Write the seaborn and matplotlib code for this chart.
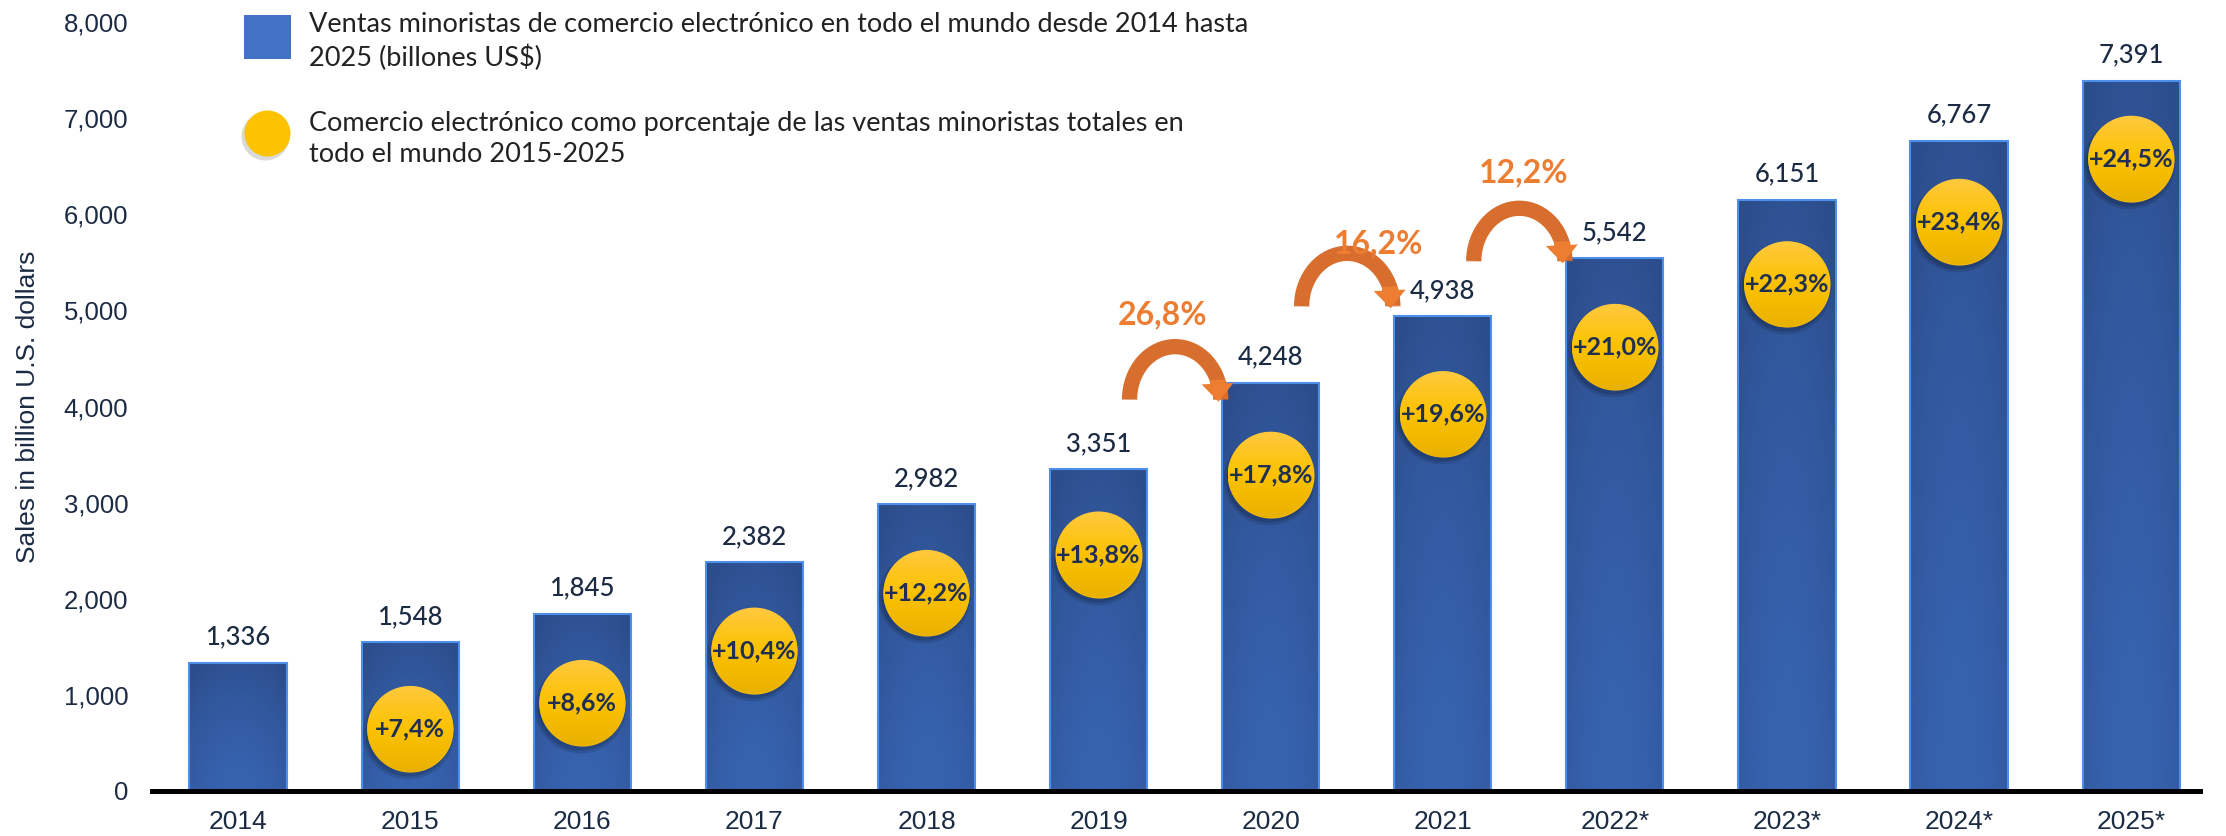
import matplotlib
matplotlib.use("Agg")
from matplotlib import pyplot as plt
import matplotlib.ticker as plticker
import matplotlib.transforms as mtransforms
from matplotlib.colors import LinearSegmentedColormap
from matplotlib.patches import FancyArrowPatch, Ellipse, Rectangle, Arc
import seaborn as sns
import numpy as np
import pandas as pd

# data
years = ["2014", "2015", "2016", "2017", "2018", "2019", "2020", "2021",
         "2022*", "2023*", "2024*", "2025*"]
sales = [1336, 1548, 1845, 2382, 2982, 3351, 4248, 4938, 5542, 6151, 6767, 7391]
share_years = years[1:]
share_pct = [7.4, 8.6, 10.4, 12.2, 13.8, 17.8, 19.6, 21.0, 22.3, 23.4, 24.5]
# vertical position of the yellow bubbles (in sales units)
share_height = [645, 916, 1460, 2060, 2460, 3290, 3920, 4620, 5270, 5921, 6577]
growth_years = ["2020", "2021", "2022*"]
legend_labels = ["Ventas minoristas de comercio electrónico en todo el mundo desde 2014 hasta\n2025 (billones US$)",
                 "Comercio electrónico como porcentaje de las ventas minoristas totales en\ntodo el mundo 2015-2025"]
ylabel = "Sales in billion U.S. dollars"

# arrow placement tweaks (pixels): lift of arrow base over the bar top, label offset
arrow_lift = [-17, 10, -3]
label_shift = [(-13, 85), (31, 63), (4, 88)]

sns.set_style("white")
plt.rcParams['font.family'] = ['Liberation Sans', 'DejaVu Sans']
LATO = ['Lato', 'DejaVu Sans']
NAVY = "#1c2b44"
ORANGE = "#ed7d31"

W, H = 2226, 836
fig = plt.figure(figsize=(W / 100, H / 100), dpi=100)
ax = fig.add_axes([152 / W, 1 - 791 / H, 2048 / W, 769 / H])

df = pd.DataFrame({"Year": years, "Sales": sales})
sns.barplot(data=df, x="Year", y="Sales", color="#30579c", saturation=1, width=0.565,
            edgecolor="#4d8fea", linewidth=1.5, ax=ax, zorder=2)
bars = list(ax.patches)
ax.set_xlim(-0.5, 11.4)
ax.set_ylim(0, 8000)
px_x = 2048 / 11.9   # pixels per category
px_y = 769 / 8000    # pixels per sales unit

# gradient fill for the bars
bar_cmap = LinearSegmentedColormap.from_list("bar", ["#3865b3", "#2c4d8b"])
gv = np.linspace(0, 1, 200)[:, None]
gh = np.linspace(-1, 1, 60)[None, :]
bar_grad = np.clip(0.1 + 0.7 * gv ** 1.5 + 0.3 * gh ** 2, 0, 1)
for p in bars:
    x0, w, h = p.get_x(), p.get_width(), p.get_height()
    im = ax.imshow(bar_grad, cmap=bar_cmap, vmin=0, vmax=1, origin="lower",
                   extent=(x0, x0 + w, 0, h), aspect="auto", zorder=2.1, interpolation="bicubic")
    im.set_clip_path(p)
    p.set_facecolor("none")
    p.set_zorder(2.2)

# value labels
for i, v in enumerate(sales):
    ax.annotate(f"{v:,}", (i, v), xytext=(0, 13), textcoords="offset points",
                ha="center", va="baseline", fontsize=18.5, fontweight=500, family=LATO,
                color=NAVY, zorder=5)

# yellow bubbles
circ = pd.DataFrame({"pos": [years.index(y) for y in share_years], "height": share_height})
msize = 62
shadow_tr = mtransforms.offset_copy(ax.transData, fig=fig, x=-2, y=-4, units="dots")
sns.scatterplot(data=circ, x="pos", y="height", s=(msize + 4) ** 2, color="black", alpha=0.12,
                linewidth=0, transform=shadow_tr, ax=ax, zorder=3, legend=False)
sns.scatterplot(data=circ, x="pos", y="height", s=msize ** 2, color="black", alpha=0.15,
                linewidth=0, transform=shadow_tr, ax=ax, zorder=3.05, legend=False)
sns.scatterplot(data=circ, x="pos", y="height", s=msize ** 2, color="#fbc012",
                linewidth=0, ax=ax, zorder=3.2, legend=False)
ax.set_xlim(-0.5, 11.4)
ax.set_ylim(0, 8000)

d_px = msize * fig.dpi / 72
dw = d_px / px_x
dh = d_px / px_y
circ_cmap = LinearSegmentedColormap.from_list("circ", ["#e9b100", "#fcc200", "#ffc940"])
cgrad = np.linspace(0, 1, 100)[:, None] * np.ones((1, 10))
for x, yv, pct in zip(circ["pos"], share_height, share_pct):
    e = Ellipse((x, yv), dw, dh, transform=ax.transData)
    im = ax.imshow(cgrad, cmap=circ_cmap, origin="lower", aspect="auto", zorder=3.3,
                   extent=(x - dw / 2, x + dw / 2, yv - dh / 2, yv + dh / 2), interpolation="bicubic")
    im.set_clip_path(e)
    ax.text(x, yv, ("+" + f"{pct:.1f}%").replace(".", ","), ha="center", va="center",
            fontsize=18, fontweight="bold", family=LATO, color="#1f2f52", zorder=4)

# growth arrows between years: arc body + arrow head
arrow_cmap = LinearSegmentedColormap.from_list("arr", ["#b95e28", "#d46c2d", "#ef7f34"])
n_seg = 24
for yr, lift, (lx, ly) in zip(growth_years, arrow_lift, label_shift):
    i = years.index(yr)
    prev, cur = sales[i - 1], sales[i]
    base = cur + lift / px_y
    left, right = i - 1 + 0.18, i - 0.29
    cx, rx = (left + right) / 2, (right - left) / 2
    ry = 53 / px_y
    theta_end = 22
    thetas = np.linspace(180, theta_end, n_seg + 1)
    for k in range(n_seg):
        ax.add_patch(Arc((cx, base), 2 * rx, 2 * ry, theta1=thetas[k + 1] - 0.6, theta2=thetas[k],
                         lw=11, color=arrow_cmap(k / (n_seg - 1)), zorder=4.5, capstyle="butt"))
    hx = cx + rx * np.cos(np.radians(theta_end))
    hy = base + ry * np.sin(np.radians(theta_end))
    head = FancyArrowPatch((hx, hy), (hx + 0.006, base - 2 / px_y),
                           arrowstyle="simple,head_length=13,head_width=23,tail_width=11",
                           mutation_scale=1, shrinkA=0, shrinkB=0, color=ORANGE, lw=0, zorder=4.6)
    ax.add_patch(head)
    growth = (cur / prev - 1) * 100
    ax.annotate(f"{growth:.1f}%".replace(".", ","), (cx, base), xytext=(lx, ly),
                textcoords="offset pixels", ha="center", va="center", fontsize=23,
                fontweight="bold", family=LATO, color=ORANGE, zorder=6)

ax.set_xlim(-0.5, 11.4)
ax.set_ylim(0, 8000)

# axes styling
ax.yaxis.set_major_locator(plticker.MultipleLocator(1000))
ax.yaxis.set_major_formatter(plticker.StrMethodFormatter("{x:,.0f}"))
ax.tick_params(axis="both", length=0, labelcolor=NAVY)
ax.tick_params(axis="y", pad=17, labelsize=18.5)
ax.tick_params(axis="x", pad=14, labelsize=19)
sns.despine(ax=ax, left=True)
ax.spines["bottom"].set_color("black")
ax.spines["bottom"].set_linewidth(3.6)
ax.set_xlabel("")
ax.set_ylabel(ylabel, fontsize=19, color=NAVY)
ax.yaxis.set_label_coords((40 - 152) / 2048, 0.5)

# legend drawn in figure pixels
fig.add_artist(Rectangle((244 / W, 1 - 59 / H), 47 / W, 44 / H, transform=fig.transFigure,
                         facecolor="#4472c4", edgecolor="none"))
fig.add_artist(Ellipse((265.5 / W, 1 - 136.5 / H), 48 / W, 48 / H, transform=fig.transFigure,
                       facecolor="black", alpha=0.15, edgecolor="none"))
fig.add_artist(Ellipse((267.5 / W, 1 - 133.5 / H), 46 / W, 46 / H, transform=fig.transFigure,
                       facecolor="#fdc300", edgecolor="none"))
fig.text(309 / W, 1 - 42 / H, legend_labels[0], ha="left", va="center", fontsize=19.5,
         family=LATO, color="#222222", linespacing=1.35)
fig.text(309 / W, 1 - 139 / H, legend_labels[1], ha="left", va="center", fontsize=19.5,
         family=LATO, color="#222222", linespacing=1.35)

fig.savefig("out.png", dpi=100)
